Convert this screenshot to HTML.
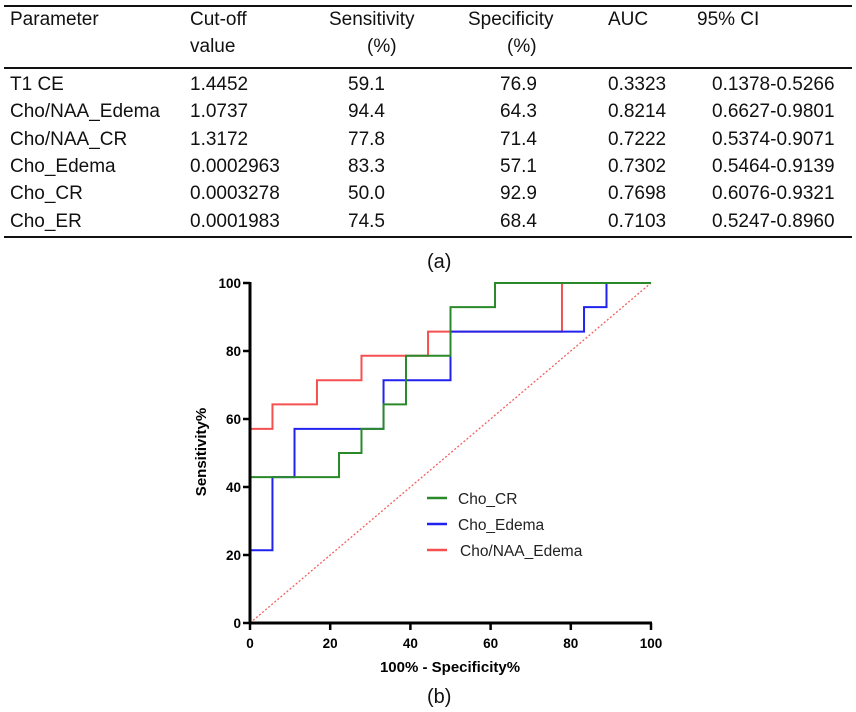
<!DOCTYPE html>
<html><head><meta charset="utf-8">
<style>
body{margin:0;width:856px;height:712px;background:#fff;font-family:"Liberation Sans",Arial,sans-serif;position:relative;overflow:hidden}
.t{position:absolute;font-size:19px;line-height:22px;color:#111;white-space:nowrap}
.rule{position:absolute;left:4px;width:848px;background:#111}
</style></head><body>
<div>
<div class="rule" style="top:5px;height:2px"></div>
<div class="rule" style="top:67px;height:2px"></div>
<div class="rule" style="top:236px;height:2px"></div>
<div id="tbl"></div>
</div>
<div class="t" style="left:427px;top:250px;font-size:20px;line-height:24px">(a)</div>
<svg id="chart" width="856" height="712" style="position:absolute;left:0;top:0"></svg>
<div class="t" style="left:427px;top:685px;font-size:20px;line-height:24px">(b)</div>
<script>
// table
const hdr=[["Parameter",10],["Cut-off",190],["Sensitivity",329],["Specificity",468],["AUC",608],["95% CI",697]];
const hdr2=[["value",190],["(%)",367],["(%)",507]];
const rows=[["T1 CE","1.4452","59.1","76.9","0.3323","0.1378-0.5266"],
["Cho/NAA_Edema","1.0737","94.4","64.3","0.8214","0.6627-0.9801"],
["Cho/NAA_CR","1.3172","77.8","71.4","0.7222","0.5374-0.9071"],
["Cho_Edema","0.0002963","83.3","57.1","0.7302","0.5464-0.9139"],
["Cho_CR","0.0003278","50.0","92.9","0.7698","0.6076-0.9321"],
["Cho_ER","0.0001983","74.5","68.4","0.7103","0.5247-0.8960"]];
const colX=[10,190,348,500,608,712];
const tbl=document.getElementById('tbl');
function addT(txt,x,y){const d=document.createElement('div');d.className='t';d.style.left=x+'px';d.style.top=y+'px';d.textContent=txt;


tbl.appendChild(d);}
hdr.forEach(h=>addT(h[0],h[1],9));
hdr2.forEach(h=>addT(h[0],h[1],36));
rows.forEach((r,i)=>r.forEach((c,j)=>addT(c,colX[j],74+i*27.3)));
// chart
const xTicks=[0,20,40,60,80,100];
const yTicks=[0,20,40,60,80,100];
const choNaaX=[0,0,5.6,5.6,16.7,16.7,27.8,27.8,44.4,44.4,77.8,77.8,100];
const choNaaY=[0,57.1,57.1,64.3,64.3,71.4,71.4,78.6,78.6,85.7,85.7,100,100];
const choEdX=[0,0,5.6,5.6,11.1,11.1,33.3,33.3,50,50,83.3,83.3,88.9,88.9,100];
const choEdY=[0,21.4,21.4,42.9,42.9,57.1,57.1,71.4,71.4,85.7,85.7,92.9,92.9,100,100];
const choCrX=[0,0,22.2,22.2,27.8,27.8,33.3,33.3,38.9,38.9,50,50,61.1,61.1,100];
const choCrY=[0,42.9,42.9,50,50,57.1,57.1,64.3,64.3,78.6,78.6,92.9,92.9,100,100];
const X0=250,X1=651,Y0=623,Y1=283;
const sx=v=>X0+(X1-X0)*v/100, sy=v=>Y0-(Y0-Y1)*v/100;
const svg=document.getElementById('chart'),NS='http://www.w3.org/2000/svg';
function el(t,a,p){const e=document.createElementNS(NS,t);for(const k in a)e.setAttribute(k,a[k]);(p||svg).appendChild(e);return e;}
let e=el('line',{x1:sx(0),y1:sy(0),x2:sx(100),y2:sy(100),stroke:'#f26060','stroke-width':1.3,'stroke-dasharray':'2,2'});


function series(xs,ys,col,name){const pts=xs.map((x,i)=>sx(x)+','+sy(ys[i])).join(' ');
const p=el('polyline',{points:pts,fill:'none',stroke:col,'stroke-width':2});

}
series(choNaaX,choNaaY,'#f55050','series-cho-naa-edema');
series(choEdX,choEdY,'#2222ee','series-cho-edema');
series(choCrX,choCrY,'#2a8a2a','series-cho-cr');
e=el('line',{x1:X0,y1:Y1-1,x2:X0,y2:Y0+1,stroke:'#000','stroke-width':3});


e=el('line',{x1:X0-1,y1:Y0,x2:X1+1,y2:Y0,stroke:'#000','stroke-width':3});


yTicks.forEach(v=>{const l=el('line',{x1:X0-7,x2:X0,y1:sy(v),y2:sy(v),stroke:'#000','stroke-width':2.5});


const t=el('text',{x:X0-9,y:sy(v)+5,'text-anchor':'end','font-size':13.5,'font-weight':'bold','font-family':'Liberation Sans,sans-serif'});t.textContent=v;

});
xTicks.forEach(v=>{const l=el('line',{x1:sx(v),x2:sx(v),y1:Y0,y2:Y0+7,stroke:'#000','stroke-width':2.5});


const t=el('text',{x:sx(v),y:Y0+25,'text-anchor':'middle','font-size':13.5,'font-weight':'bold','font-family':'Liberation Sans,sans-serif'});t.textContent=v;

});
let t=el('text',{x:450,y:672,'text-anchor':'middle','font-size':15,'font-weight':'bold','font-family':'Liberation Sans,sans-serif'});t.textContent='100% - Specificity%';


t=el('text',{x:0,y:0,'text-anchor':'middle','font-size':15,'font-weight':'bold','font-family':'Liberation Sans,sans-serif',transform:'translate(206,452) rotate(-90)'});t.textContent='Sensitivity%';


const leg=[['Cho_CR','#2a8a2a',498,458],['Cho_Edema','#2222ee',524,458],['Cho/NAA_Edema','#f55050',550,460]];
leg.forEach(L=>{const g=el('g',{});


el('line',{x1:427,x2:447,y1:L[2],y2:L[2],stroke:L[1],'stroke-width':2.5},g);
const tt=el('text',{x:L[3],y:L[2]+6,'font-size':15.5,fill:'#222','font-family':'Liberation Sans,sans-serif'},g);tt.textContent=L[0];});
</script>
</body></html>
